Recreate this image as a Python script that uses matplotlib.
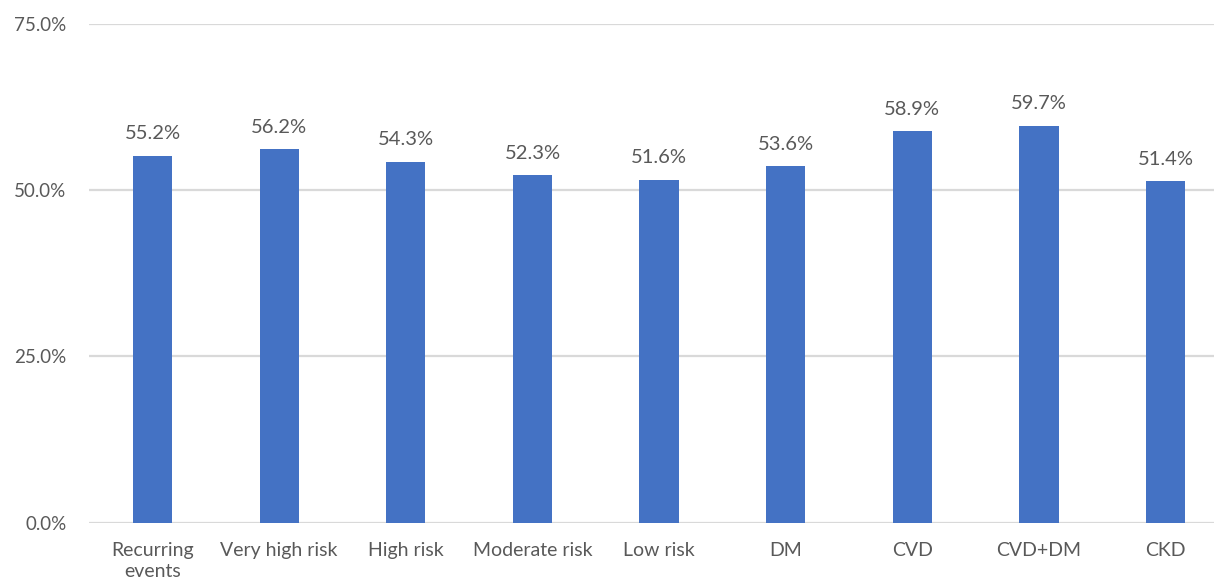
import matplotlib
matplotlib.use("Agg")
import matplotlib.pyplot as plt
from matplotlib.ticker import FuncFormatter

categories = ["Recurring\nevents", "Very high risk", "High risk", "Moderate risk",
              "Low risk", "DM", "CVD", "CVD+DM", "CKD"]
values = [55.2, 56.2, 54.3, 52.3, 51.6, 53.6, 58.9, 59.7, 51.4]
yticks = [0, 25, 50, 75]

BAR = "#4472C4"
GRID = "#D9D9D9"
TXT = "#595959"

plt.rcParams['font.family'] = ['Lato', 'DejaVu Sans']

W, H = 1214, 583
fig = plt.figure(figsize=(W / 100, H / 100), dpi=100)
left_px, right_px = 89.2, 1229.0
top_px, bot_px = 24.0, 522.7
ax = fig.add_axes([left_px / W, (H - bot_px) / H,
                   (right_px - left_px) / W, (bot_px - top_px) / H])

x = list(range(len(categories)))
ax.bar(x, values, width=0.31, color=BAR, zorder=3)

ax.set_xlim(-0.5, len(categories) - 0.5)
ax.set_ylim(0, 75)
ax.set_yticks(yticks)
ax.yaxis.set_major_formatter(FuncFormatter(lambda v, p: f"{v:.1f}%"))
ax.grid(axis='y', color=GRID, linewidth=1.6, zorder=0)
ax.set_axisbelow(True)
for s in ax.spines.values():
    s.set_visible(False)

ax.set_xticks(x)
ax.set_xticklabels(categories, fontsize=14, color=TXT, linespacing=1.3)
ax.tick_params(axis='x', length=0, pad=14)
ax.tick_params(axis='y', length=0, pad=16.5, labelsize=13.5, labelcolor=TXT)

for xi, v in zip(x, values):
    ax.annotate(f"{v:.1f}%", (xi, v), xytext=(0, 11.8), textcoords='offset points',
                ha='center', va='baseline', fontsize=14.5, color=TXT)

fig.savefig("out.png", dpi=100)
